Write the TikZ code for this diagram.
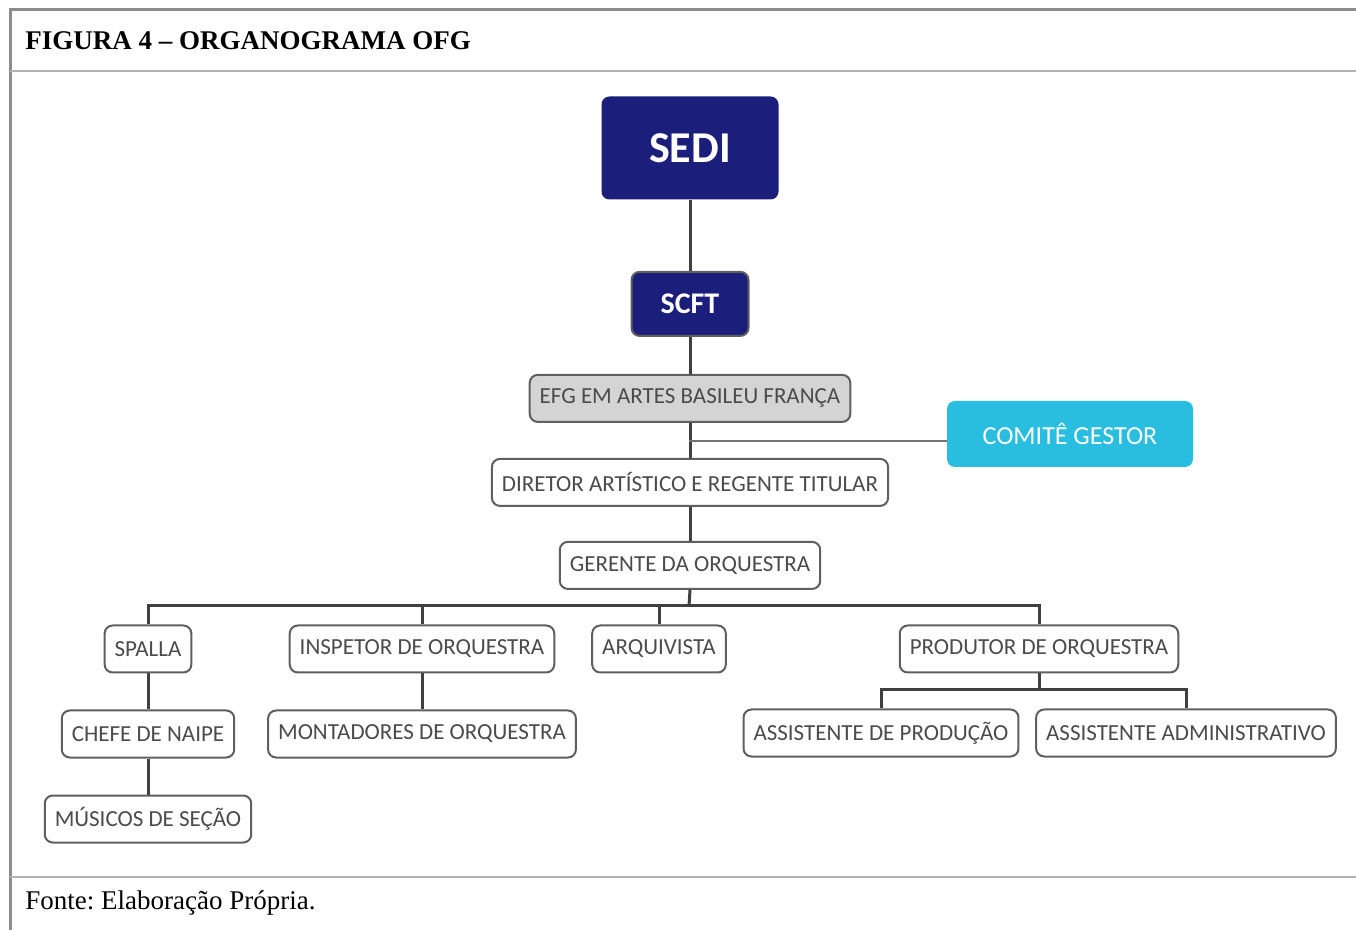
\documentclass[tikz,border=0pt]{standalone}
\usepackage{fontspec}
\setmainfont{Liberation Serif}
\newfontfamily\orgfont{Carlito}
\usepackage{xcolor}
\usetikzlibrary{positioning}

\definecolor{navy}{RGB}{27,30,122}
\definecolor{cyanbox}{RGB}{41,189,224}
\definecolor{boxgray}{RGB}{95,95,95}
\definecolor{textgray}{RGB}{75,75,75}
\definecolor{framegray}{RGB}{140,140,140}

\begin{document}
\frenchspacing
\begin{tikzpicture}[x=0.5pt, y=-0.5pt, boxnode/.style={rectangle, rounded corners=4pt, draw=boxgray, line width=1pt, fill=white, text=textgray, font=\orgfont\fontsize{11.5}{13}\selectfont, minimum height=23.5pt, inner xsep=5pt}, graynode/.style={boxnode, fill=black!17}, bluenode/.style={rectangle, rounded corners=4pt, draw=boxgray, line width=1pt, fill=navy, text=white, font=\orgfont\bfseries\fontsize{15}{17}\selectfont, minimum width=58.5pt, minimum height=32pt}, bignode/.style={rectangle, rounded corners=4pt, fill=navy, text=white, font=\orgfont\bfseries\fontsize{22}{25}\selectfont, minimum width=88.5pt, minimum height=51.5pt}, cyannode/.style={rectangle, rounded corners=4pt, fill=cyanbox, text=white, font=\orgfont\fontsize{13}{15}\selectfont, minimum width=123pt, minimum height=33pt}, conn/.style={draw=black!75, line width=1.5pt}, frame/.style={draw=framegray, line width=1.5pt}]

    \useasboundingbox (0,0) rectangle (1356,930);

    %Frame
    \draw[frame] (10,930) -- (10,10) -- (1356,10);
    \draw[frame, line width=1pt, draw=black!30] (10,71) -- (1356,71);
    \draw[frame, line width=1pt, draw=black!30] (10,877) -- (1356,877);
    \node[anchor=base west, inner sep=0pt, font=\fontsize{13.5}{16}\selectfont\bfseries](title) at (25,50) {FIGURA 4 – ORGANOGRAMA OFG};
    \node[anchor=base west, inner sep=0pt, font=\fontsize{13.5}{16}\selectfont](source) at (25,909) {Fonte: Elaboração Própria.};

    %Nodes
    \node[bignode](sedi) at (690,148) {SEDI};
    \node[bluenode](scft)[below=35.5pt of sedi]{SCFT};
    \node[graynode](efg)[below=18.5pt of scft]{EFG EM ARTES BASILEU FRANÇA};
    \node[boxnode](diretor)[below=17.5pt of efg]{DIRETOR ARTÍSTICO E REGENTE TITULAR};
    \node[boxnode](gerente)[below=17pt of diretor]{GERENTE DA ORQUESTRA};
    \node[cyannode](comite) at (1070,434) {COMITÊ GESTOR};

    \node[boxnode](spalla) at (148,649) {SPALLA};
    \node[boxnode](inspetor) at (422,649) {INSPETOR DE ORQUESTRA};
    \node[boxnode](arquivista) at (659,649) {ARQUIVISTA};
    \node[boxnode](produtor) at (1039,649) {PRODUTOR DE ORQUESTRA};

    \node[boxnode](chefe)[below=18pt of spalla]{CHEFE DE NAIPE};
    \node[boxnode](musicos)[below=18pt of chefe]{MÚSICOS DE SEÇÃO};
    \node[boxnode](montadores)[below=18pt of inspetor]{MONTADORES DE ORQUESTRA};
    \node[boxnode](assist_prod) at (881,733) {ASSISTENTE DE PRODUÇÃO};
    \node[boxnode](assist_adm) at (1186,733) {ASSISTENTE ADMINISTRATIVO};

    \coordinate (comite_join) at (689,441);
    \coordinate (staff_bus) at (689,606);
    \coordinate (prod_bus) at (1039,690);

    %Lines
    \draw[conn] (sedi.south) -- (scft.north);
    \draw[conn] (scft.south) -- (efg.north);
    \draw[conn] (efg.south) -- (diretor.north);
    \draw[conn, line width=0.8pt, draw=black!55] (comite_join) -- (comite_join -| comite.west);
    \draw[conn] (diretor.south) -- (gerente.north);
    \draw[conn] (gerente.south) -- (staff_bus);
    \draw[conn] (staff_bus) -| (spalla.north);
    \draw[conn] (staff_bus) -| (inspetor.north);
    \draw[conn] (staff_bus) -| (arquivista.north);
    \draw[conn] (staff_bus) -| (produtor.north);
    \draw[conn] (spalla.south) -- (chefe.north);
    \draw[conn] (chefe.south) -- (musicos.north);
    \draw[conn] (inspetor.south) -- (montadores.north);
    \draw[conn] (produtor.south) -- (prod_bus);
    \draw[conn] (prod_bus) -| (assist_prod.north);
    \draw[conn] (prod_bus) -| (assist_adm.north);

\end{tikzpicture}
\end{document}
